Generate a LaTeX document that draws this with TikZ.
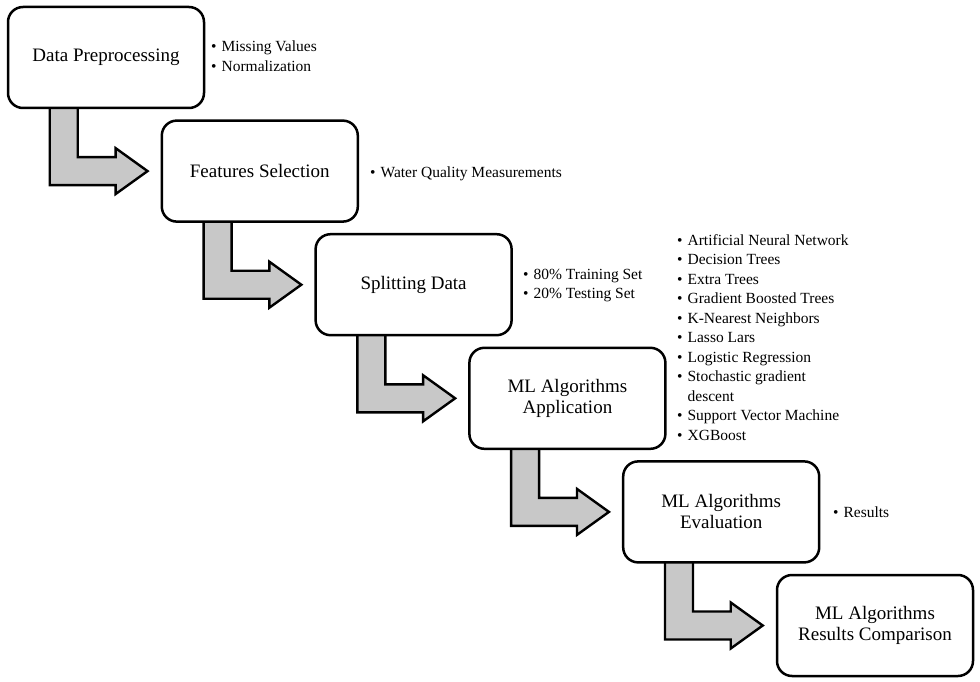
\documentclass[tikz,border=0pt]{standalone}
\usepackage{fontspec}
\setmainfont{Liberation Serif}
\usetikzlibrary{calc}
\pgfdeclarelayer{background}
\pgfsetlayers{background,main}
\tikzset{
  stepbox/.style={draw=black, line width=2.5pt, rounded corners=15pt, fill=white,
    minimum width=196pt, minimum height=101pt, inner sep=0pt, align=center,
    font=\fontsize{19}{21}\selectfont},
  blockarrow/.style={draw=black, line width=2.4pt, fill={rgb,255:red,200;green,200;blue,200}, line join=miter},
  bulletlist/.style={anchor=base west, inner sep=0pt, font=\fontsize{15.5}{19.5}\selectfont}
}
\newcommand\mkarrow[2]{%
  \draw[blockarrow] let \p1=(#1.south west), \p2=(#2.west) in
    (\x1+43pt,\y1+3pt) -- (\x1+71pt,\y1+3pt) -- (\x1+71pt,\y2+14pt) --
    (\x2-45pt,\y2+14pt) -- (\x2-45pt,\y2+23pt) -- (\x2-13pt,\y2) --
    (\x2-45pt,\y2-23pt) -- (\x2-45pt,\y2-14pt) -- (\x1+43pt,\y2-14pt) -- cycle;}
\newcommand\bl{\textbullet}
\begin{document}
\begin{tikzpicture}[x=1pt,y=-1pt]
\useasboundingbox (0,0) rectangle (980,682);
\node[stepbox] (b1) at (106,57.5) {Data Preprocessing};
\node[stepbox] (b2) at (259.8,171.1) {Features Selection};
\node[stepbox] (b3) at (413.6,284.7) {Splitting Data};
\node[stepbox] (b4) at (567.4,398.3) {ML Algorithms\\Application};
\node[stepbox] (b5) at (721.2,511.9) {ML Algorithms\\Evaluation};
\node[stepbox] (b6) at (875,625.5) {ML Algorithms\\Results Comparison};
\begin{pgfonlayer}{background}
\fill[white] (0,0) rectangle (980,682);
\mkarrow{b1}{b2}
\mkarrow{b2}{b3}
\mkarrow{b3}{b4}
\mkarrow{b4}{b5}
\mkarrow{b5}{b6}
\end{pgfonlayer}
% lists
\node[bulletlist] (l1) at (211,52) {\begin{tabular}[t]{@{}l@{\hspace{5pt}}l@{}}\bl & Missing Values\\ \bl & Normalization\end{tabular}};
\node[bulletlist] (l2) at (370,177) {\begin{tabular}[t]{@{}l@{\hspace{5pt}}l@{}}\bl & Water Quality Measurements\end{tabular}};
\node[bulletlist] (l3) at (523,279) {\begin{tabular}[t]{@{}l@{\hspace{5pt}}l@{}}\bl & 80\% Training Set\\ \bl & 20\% Testing Set\end{tabular}};
\node[bulletlist] (l4) at (677,245) {\begin{tabular}[t]{@{}l@{\hspace{5pt}}l@{}}
\bl & Artificial Neural Network\\
\bl & Decision Trees\\
\bl & Extra Trees\\
\bl & Gradient Boosted Trees\\
\bl & K-Nearest Neighbors\\
\bl & Lasso Lars\\
\bl & Logistic Regression\\
\bl & Stochastic gradient\\
 & descent\\
\bl & Support Vector Machine\\
\bl & XGBoost\end{tabular}};
\node[bulletlist] (l5) at (833,517) {\begin{tabular}[t]{@{}l@{\hspace{5pt}}l@{}}\bl & Results\end{tabular}};
\end{tikzpicture}
\end{document}
